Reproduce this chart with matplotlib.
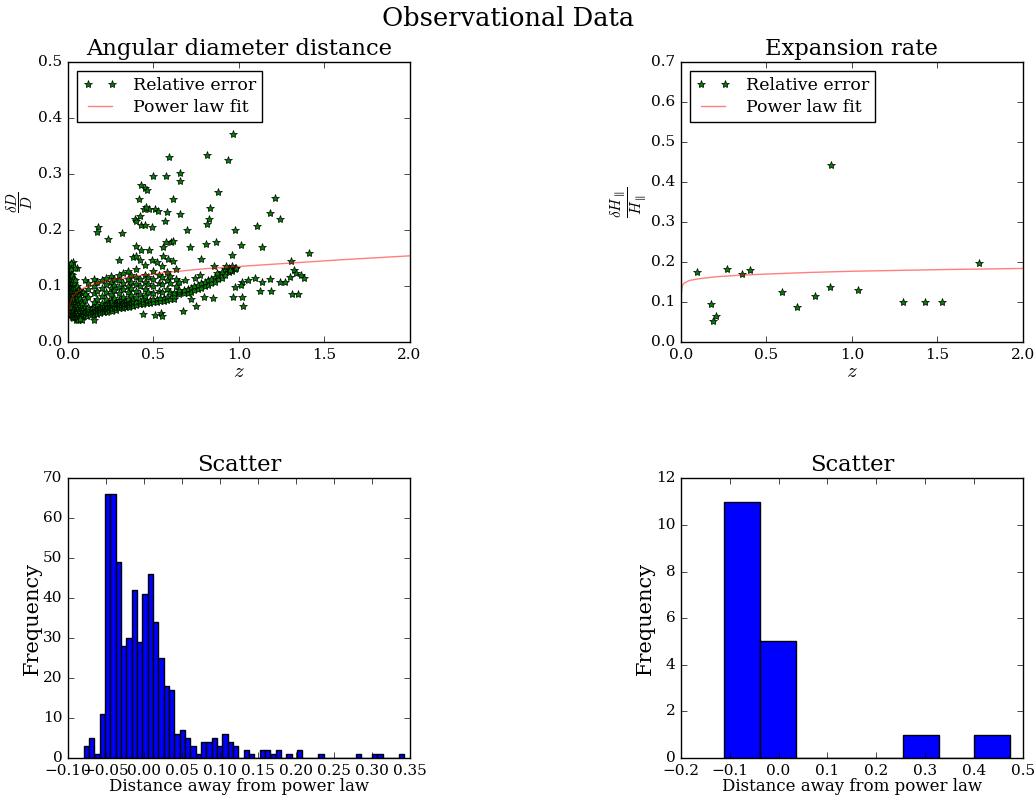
"""
Observational data
==================

Relative errors against redshift with a power law fit, plus the scatter
of the points about that fit.
"""

import matplotlib.pyplot as plt
import numpy as np

plt.style.use('classic')
plt.rcParams['font.family'] = 'serif'
plt.rcParams['font.serif'] = ['DejaVu Serif']
plt.rcParams['figure.facecolor'] = 'white'
plt.rcParams['savefig.facecolor'] = 'white'

# angular diameter distance: columns of points (z, [dD/D ...])
ang_columns = [
    (0.002, [0.078, 0.092, 0.105, 0.118, 0.085, 0.098]),
    (0.006, [0.072, 0.088, 0.100, 0.112, 0.125, 0.080, 0.095]),
    (0.010, [0.065, 0.083, 0.093, 0.107, 0.115, 0.128, 0.058]),
    (0.015, [0.070, 0.087, 0.099, 0.110, 0.121, 0.138, 0.052]),
    (0.020, [0.062, 0.076, 0.090, 0.103, 0.116, 0.130, 0.048]),
    (0.025, [0.068, 0.081, 0.095, 0.108, 0.120, 0.045, 0.055]),
    (0.030, [0.058, 0.073, 0.086, 0.100, 0.112, 0.143, 0.042]),
    (0.035, [0.050, 0.066, 0.079, 0.092, 0.105, 0.047]),
    (0.040, [0.044, 0.056, 0.070, 0.085, 0.097, 0.110]),
    (0.045, [0.052, 0.062, 0.078, 0.090, 0.040]),
    (0.050, [0.046, 0.058, 0.072, 0.086, 0.100, 0.133]),
    (0.055, [0.042, 0.054, 0.066, 0.081]),
    (0.060, [0.050, 0.061, 0.075, 0.093, 0.040]),
    (0.065, [0.047, 0.057, 0.070, 0.085]),
    (0.070, [0.044, 0.053, 0.064, 0.079, 0.092]),
    (0.075, [0.050, 0.060, 0.072]),
    (0.080, [0.046, 0.056, 0.068, 0.087, 0.040]),
    (0.090, [0.050, 0.059, 0.090]),
    (0.100, [0.048, 0.056, 0.064, 0.075, 0.085, 0.110]),
    (0.110, [0.047, 0.055]),
    (0.120, [0.051, 0.058, 0.062, 0.080, 0.095, 0.105]),
    (0.130, [0.049, 0.054]),
    (0.140, [0.052, 0.057, 0.060]),
    (0.150, [0.048, 0.055, 0.062, 0.072, 0.088, 0.100, 0.112]),
    (0.160, [0.053, 0.058]),
    (0.170, [0.050, 0.056, 0.061, 0.066, 0.076, 0.092, 0.107]),
    (0.180, [0.054, 0.059]),
    (0.190, [0.052, 0.057, 0.063]),
    (0.200, [0.055, 0.060, 0.066, 0.070, 0.082, 0.097, 0.110]),
    (0.210, [0.053, 0.058, 0.064]),
    (0.220, [0.056, 0.061, 0.068, 0.077, 0.090, 0.104, 0.115]),
    (0.230, [0.054, 0.060, 0.065]),
    (0.240, [0.057, 0.062, 0.070]),
    (0.250, [0.059, 0.064, 0.073, 0.085, 0.096, 0.108, 0.118]),
    (0.260, [0.056, 0.061, 0.067, 0.073]),
    (0.270, [0.060, 0.065, 0.079, 0.093, 0.102, 0.112]),
    (0.280, [0.058, 0.063, 0.069]),
    (0.290, [0.062, 0.067, 0.072]),
    (0.300, [0.060, 0.065, 0.070, 0.075, 0.088, 0.099, 0.110, 0.120]),
    (0.310, [0.063, 0.068, 0.075]),
    (0.320, [0.061, 0.066, 0.071, 0.081, 0.094, 0.105, 0.124]),
    (0.330, [0.064, 0.069]),
    (0.340, [0.062, 0.067, 0.073]),
    (0.350, [0.065, 0.070, 0.077, 0.090, 0.100, 0.113, 0.127]),
    (0.360, [0.063, 0.068]),
    (0.370, [0.066, 0.071, 0.084, 0.097, 0.108, 0.120]),
    (0.380, [0.064, 0.069, 0.074]),
    (0.400, [0.066, 0.071, 0.080, 0.092, 0.104, 0.116, 0.130]),
    (0.420, [0.068, 0.073, 0.086, 0.100, 0.112]),
    (0.440, [0.067, 0.072, 0.077]),
    (0.450, [0.083, 0.095, 0.108, 0.120, 0.138]),
    (0.460, [0.069, 0.074]),
    (0.470, [0.090, 0.104, 0.117]),
    (0.480, [0.070, 0.075]),
    (0.500, [0.071, 0.076, 0.087, 0.100, 0.113, 0.127]),
    (0.520, [0.072, 0.077]),
    (0.530, [0.092, 0.106, 0.120]),
    (0.540, [0.073, 0.078]),
    (0.550, [0.090, 0.103, 0.116, 0.135]),
    (0.560, [0.074, 0.079]),
    (0.580, [0.075, 0.080, 0.095, 0.110, 0.125]),
    (0.600, [0.076, 0.090, 0.105, 0.118]),
    (0.620, [0.077, 0.083, 0.088]),
    (0.630, [0.100, 0.112, 0.130]),
    (0.650, [0.085, 0.090, 0.093, 0.108]),
    (0.680, [0.087, 0.093]),
    (0.700, [0.088, 0.095]),
    (0.720, [0.090, 0.097]),
    (0.740, [0.093, 0.100]),
    (0.760, [0.095, 0.102]),
    (0.780, [0.097, 0.105]),
    (0.800, [0.100, 0.108]),
    (0.820, [0.102, 0.110]),
    (0.840, [0.105, 0.113]),
    (0.860, [0.108, 0.117]),
    (0.880, [0.112, 0.120]),
    (0.900, [0.115, 0.125]),
    (0.920, [0.120, 0.130]),
    (0.940, [0.125, 0.133, 0.128]),
    (0.960, [0.130, 0.136, 0.127]),
    (0.980, [0.133, 0.130]),
]

# isolated points (z, dD/D)
ang_isolated = [
    (0.967, 0.371), (0.815, 0.335), (0.590, 0.330), (0.936, 0.325),
    (0.655, 0.303), (0.657, 0.288), (0.499, 0.296), (0.575, 0.296),
    (0.429, 0.280), (0.452, 0.275), (0.460, 0.271), (0.879, 0.268),
    (0.415, 0.256), (1.212, 0.258), (0.614, 0.256), (0.510, 0.238),
    (0.476, 0.238), (0.444, 0.237), (0.454, 0.241), (0.830, 0.240),
    (0.526, 0.234), (0.581, 0.232), (0.655, 0.229), (1.185, 0.231),
    (1.240, 0.220), (0.419, 0.225), (0.390, 0.219), (0.400, 0.216),
    (0.825, 0.219), (0.815, 0.211), (0.429, 0.210), (0.448, 0.209),
    (0.567, 0.216), (0.493, 0.205), (0.175, 0.206), (0.171, 0.196),
    (0.318, 0.194), (0.236, 0.185), (0.698, 0.200), (0.979, 0.200),
    (1.107, 0.207), (0.571, 0.178), (0.604, 0.179), (0.616, 0.180),
    (0.811, 0.176), (0.869, 0.178), (1.012, 0.174), (0.713, 0.169),
    (1.138, 0.169), (0.396, 0.171), (0.429, 0.164), (0.476, 0.165),
    (0.559, 0.169), (1.411, 0.159), (0.959, 0.156), (0.778, 0.148),
    (0.382, 0.152), (0.400, 0.153), (0.421, 0.147), (0.296, 0.146),
    (0.491, 0.146), (0.524, 0.143), (0.557, 0.153), (0.587, 0.148),
    (0.616, 0.144), (0.856, 0.135), (0.928, 0.135), (0.947, 0.129),
    (0.982, 0.132), (1.306, 0.144), (0.016, 0.142), (0.043, 0.133),
    (1.326, 0.128), (1.337, 0.123), (1.366, 0.120), (1.384, 0.115),
    (1.302, 0.117), (1.244, 0.108), (1.273, 0.108), (1.185, 0.113),
    (1.096, 0.114), (1.055, 0.110), (1.138, 0.107), (1.127, 0.092),
    (1.191, 0.092), (1.314, 0.086), (1.347, 0.086), (1.021, 0.107),
    (1.012, 0.101), (0.977, 0.098), (0.967, 0.080), (1.016, 0.080),
    (1.025, 0.065), (0.749, 0.064), (0.671, 0.055), (0.509, 0.049),
    (0.546, 0.052), (0.549, 0.046), (0.437, 0.050), (0.154, 0.040),
    (0.072, 0.041), (0.797, 0.080), (0.850, 0.079), (0.723, 0.077),
    (0.873, 0.123), (0.772, 0.120), (0.741, 0.114), (0.686, 0.111),
]

# power law fit through the angular diameter points, sampled off the curve
ang_fit_z = [0.001, 0.003, 0.006, 0.01, 0.02, 0.04, 0.07, 0.1, 0.15, 0.2,
             0.3, 0.4, 0.6, 0.8, 1.0, 1.3, 1.6, 2.0]
ang_fit_err = [0.030, 0.045, 0.058, 0.066, 0.076, 0.085, 0.093, 0.098, 0.103,
               0.108, 0.113, 0.118, 0.125, 0.131, 0.135, 0.141, 0.147, 0.154]

# expansion rate
hub_z = [0.093, 0.175, 0.185, 0.204, 0.272, 0.356, 0.405, 0.593, 0.681,
         0.784, 0.875, 0.877, 1.037, 1.300, 1.430, 1.527, 1.747]
hub_err = [0.174, 0.096, 0.053, 0.066, 0.182, 0.169, 0.179, 0.125, 0.087,
           0.114, 0.137, 0.443, 0.129, 0.101, 0.101, 0.099, 0.198]
hub_fit_z = [0.001, 0.005, 0.01, 0.02, 0.05, 0.1, 0.2, 0.3, 0.5, 0.75, 1.0,
             1.5, 2.0]
hub_fit_err = [0.118, 0.135, 0.143, 0.148, 0.154, 0.158, 0.163, 0.166, 0.170,
               0.174, 0.177, 0.181, 0.184]

# scatter about the fits (histogram counts, equal-width bins)
ang_hist_range = (-0.0795, 0.3425)
ang_hist_counts = [3, 5, 1, 11, 66, 66, 49, 28, 30, 42, 29, 41, 46, 34, 25,
                   18, 17, 6, 7, 5, 3, 1, 4, 4, 5, 3, 6, 4, 3, 0,
                   2, 1, 0, 2, 2, 1, 2, 0, 1, 0, 2, 0, 0, 0, 1,
                   0, 0, 0, 0, 0, 0, 1, 0, 0, 1, 1, 0, 0, 0, 1]
hub_hist_range = (-0.111, 0.474)
hub_hist_counts = [11, 5, 0, 0, 0, 1, 0, 1]

ang_z = [z for z, ys in ang_columns for _ in ys] + [p[0] for p in ang_isolated]
ang_err = [y for z, ys in ang_columns for y in ys] + [p[1] for p in ang_isolated]

fig = plt.figure(figsize=(10.35, 7.99), dpi=100)
fig.suptitle('Observational Data', fontsize=18.5, x=0.491, y=0.993)

w, h = 0.330, 0.350
ax1 = fig.add_axes([0.0657, 0.572, w, h])
ax2 = fig.add_axes([0.658, 0.572, w, h])
ax3 = fig.add_axes([0.0657, 0.0513, w, h])
ax4 = fig.add_axes([0.658, 0.0513, w, h])

leg_kw = dict(loc='upper left', fontsize=12.5, labelspacing=0.3,
              borderpad=0.35, handletextpad=0.9)

ax1.plot(ang_z, ang_err, 'g*', label='Relative error')
ax1.plot(ang_fit_z, ang_fit_err, 'r-', alpha=0.5, label='Power law fit')
ax1.set_xlim(0, 2.0)
ax1.set_ylim(0, 0.5)
ax1.set_title('Angular diameter distance', fontsize=16.3)
ax1.set_xlabel(r'$z$', fontsize=15, labelpad=0)
ax1.set_ylabel(r'$\dfrac{\delta D}{D}$', fontsize=11, labelpad=2)
ax1.legend(**leg_kw)

ax2.plot(hub_z, hub_err, 'g*', label='Relative error')
ax2.plot(hub_fit_z, hub_fit_err, 'r-', alpha=0.5, label='Power law fit')
ax2.set_xlim(0, 2.0)
ax2.set_ylim(0, 0.7)
ax2.set_title('Expansion rate', fontsize=16.3)
ax2.set_xlabel(r'$z$', fontsize=15, labelpad=0)
ax2.set_ylabel(r'$\dfrac{\delta H_\parallel}{H_\parallel}$', fontsize=11,
               labelpad=2)
ax2.legend(**leg_kw)

for ax, rng, counts, xlim in [(ax3, ang_hist_range, ang_hist_counts, (-0.1, 0.35)),
                               (ax4, hub_hist_range, hub_hist_counts, (-0.2, 0.5))]:
    edges = np.linspace(rng[0], rng[1], len(counts) + 1)
    centers = 0.5 * (edges[:-1] + edges[1:])
    ax.hist(centers, bins=edges, weights=counts, color='b')
    ax.set_xlim(*xlim)
    ax.set_title('Scatter', fontsize=16.3)
    ax.set_xlabel('Distance away from power law', fontsize=12, labelpad=0)
    ax.set_ylabel('Frequency', fontsize=15, labelpad=1)

ax3.set_ylim(0, 70)
ax4.set_ylim(0, 12)

for ax in (ax1, ax2, ax3, ax4):
    ax.tick_params(labelsize=11)

fig.savefig('out.png', dpi=100)
